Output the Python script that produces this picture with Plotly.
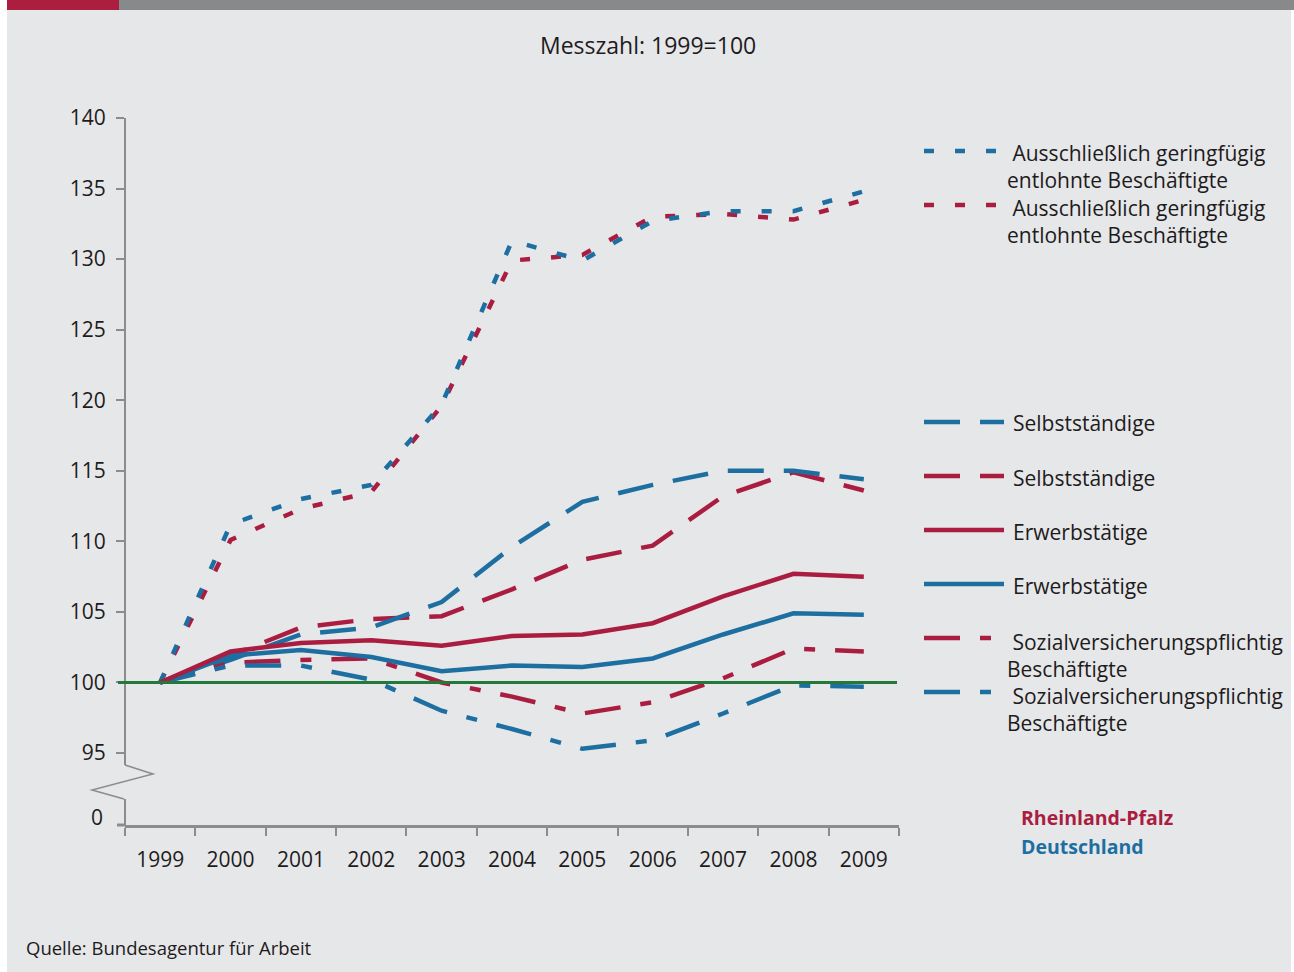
import plotly.graph_objects as go

# Werte (Messzahl 1999=100)
years = ["1999", "2000", "2001", "2002", "2003", "2004", "2005", "2006", "2007", "2008", "2009"]

gering_de = [100, 111.2, 113.0, 114.0, 119.7, 131.3, 129.9, 132.7, 133.4, 133.4, 134.8]
gering_rp = [100, 110.1, 112.3, 113.5, 119.6, 129.9, 130.3, 133.0, 133.2, 132.8, 134.2]
selbst_de = [100, 101.6, 103.4, 103.9, 105.7, 109.6, 112.8, 114.0, 115.0, 115.0, 114.4]
selbst_rp = [100, 101.9, 103.9, 104.5, 104.7, 106.6, 108.7, 109.7, 113.2, 114.9, 113.6]
erwerb_rp = [100, 102.2, 102.8, 103.0, 102.6, 103.3, 103.4, 104.2, 106.1, 107.7, 107.5]
erwerb_de = [100, 101.9, 102.3, 101.8, 100.8, 101.2, 101.1, 101.7, 103.4, 104.9, 104.8]
sozial_rp = [100, 101.4, 101.6, 101.7, 100.0, 99.0, 97.8, 98.6, 100.3, 102.4, 102.2]
sozial_de = [100, 101.2, 101.2, 100.2, 98.0, 96.7, 95.3, 95.9, 97.8, 99.8, 99.7]

y_ticks = [95, 100, 105, 110, 115, 120, 125, 130, 135, 140]

RED = "#AA1D40"
BLUE = "#1D6FA1"
GREEN = "#22793A"
AXIS = "#8C8C8E"
TXT = "#1E1B1C"
FONT = "Open Sans"

DOT = "10px,21px"
LONG = "36px,20px"
DASHDOT = "36px,20px,11px,20px"

# (label, values, colour, dash) in legend order
series = [
    ("\u00a0Ausschließlich geringfügig<br>entlohnte Beschäftigte", gering_de, BLUE, DOT),
    ("\u00a0Ausschließlich geringfügig<br>entlohnte Beschäftigte", gering_rp, RED, DOT),
    ("Selbstständige", selbst_de, BLUE, LONG),
    ("Selbstständige", selbst_rp, RED, LONG),
    ("Erwerbstätige", erwerb_rp, RED, "solid"),
    ("Erwerbstätige", erwerb_de, BLUE, "solid"),
    ("\u00a0Sozialversicherungspflichtig<br>Beschäftigte", sozial_rp, RED, DASHDOT),
    ("\u00a0Sozialversicherungspflichtig<br>Beschäftigte", sozial_de, BLUE, DASHDOT),
]
# legend rows: sample line y and text block centre (pixels)
legend_rows = [(151, 166), (205, 221), (422, 423), (476, 478), (530, 532), (584, 586), (638, 655), (692, 709)]

W, H = 1294, 972
L, R, T, B = 125, 395, 118, 147
pw, ph = W - L - R, H - T - B


def px_x(px):
    return (px - L) / pw


def px_y(py):
    return (H - B - py) / ph


fig = go.Figure()

draw_order = [1, 0, 3, 2, 6, 7, 5, 4]
for i in draw_order:
    name, vals, col, dash = series[i]
    fig.add_trace(go.Scatter(
        x=years, y=vals, mode="lines", showlegend=False,
        line=dict(color=col, width=4.5, dash=dash),
        name=name.replace("<br>", " ").strip("\u00a0"),
    ))

shapes = []
annotations = []

# background frame and top bar
shapes.append(dict(type="rect", xref="paper", yref="paper", x0=px_x(0), x1=px_x(7),
                   y0=px_y(H), y1=px_y(0), fillcolor="white", line_width=0, layer="below"))
shapes.append(dict(type="rect", xref="paper", yref="paper", x0=px_x(1291), x1=px_x(W),
                   y0=px_y(H), y1=px_y(0), fillcolor="white", line_width=0, layer="below"))
shapes.append(dict(type="rect", xref="paper", yref="paper", x0=px_x(7), x1=px_x(119),
                   y0=px_y(10), y1=px_y(0), fillcolor="#AB1E3F", line_width=0, layer="below"))
shapes.append(dict(type="rect", xref="paper", yref="paper", x0=px_x(119), x1=px_x(W),
                   y0=px_y(10), y1=px_y(0), fillcolor="#88898B", line_width=0, layer="below"))

# y axis with break
shapes.append(dict(type="line", xref="paper", yref="paper", x0=0, x1=0,
                   y0=px_y(118), y1=px_y(765), line=dict(color=AXIS, width=2)))
shapes.append(dict(type="path", xref="paper", yref="paper",
                   path="M %f,%f L %f,%f L %f,%f L %f,%f" % (
                       px_x(125), px_y(765), px_x(153), px_y(774),
                       px_x(92), px_y(790), px_x(124), px_y(799)),
                   line=dict(color=AXIS, width=1.5)))
shapes.append(dict(type="line", xref="paper", yref="paper", x0=0, x1=0,
                   y0=px_y(799), y1=px_y(825), line=dict(color=AXIS, width=2)))
shapes.append(dict(type="line", xref="paper", yref="paper", x0=px_x(117), x1=0,
                   y0=0, y1=0, line=dict(color=AXIS, width=3)))

# reference line 100
shapes.append(dict(type="line", xref="paper", yref="y", x0=px_x(118), x1=px_x(897),
                   y0=100, y1=100, line=dict(color=GREEN, width=3), layer="above"))

# manual legend
for (name, vals, col, dash), (ly, ty) in zip(series, legend_rows):
    shapes.append(dict(type="line", xref="paper", yref="paper",
                       x0=px_x(924), x1=px_x(1004), y0=px_y(ly), y1=px_y(ly),
                       line=dict(color=col, width=4.5, dash=dash)))
    two_lines = "<br>" in name
    annotations.append(dict(xref="paper", yref="paper", x=px_x(1005 if two_lines else 1011),
                            y=px_y(ty), xanchor="left", yanchor="middle", showarrow=False,
                            align="left", text=name, font=dict(size=21, color=TXT)))

annotations += [
    dict(xref="paper", yref="paper", x=px_x(1019), y=px_y(817), xanchor="left", yanchor="middle",
         showarrow=False, text="<b>Rheinland-Pfalz</b>", font=dict(size=19.5, color=RED)),
    dict(xref="paper", yref="paper", x=px_x(1019), y=px_y(846), xanchor="left", yanchor="middle",
         showarrow=False, text="<b>Deutschland</b>", font=dict(size=19.5, color=BLUE)),
    dict(xref="paper", yref="paper", x=px_x(648), y=px_y(45), xanchor="center", yanchor="middle",
         showarrow=False, text="Messzahl: 1999=100", font=dict(size=23, color=TXT)),
    dict(xref="paper", yref="paper", x=px_x(24), y=px_y(948), xanchor="left", yanchor="middle",
         showarrow=False, text="Quelle: Bundesagentur für Arbeit", font=dict(size=18.5, color=TXT)),
    dict(xref="paper", yref="paper", x=px_x(105), y=px_y(817), xanchor="right", yanchor="middle",
         showarrow=False, text="0", font=dict(size=21, color=TXT)),
]

fig.update_layout(
    width=W, height=H,
    margin=dict(l=L, r=R, t=T, b=B, pad=0),
    paper_bgcolor="#E6E7E9", plot_bgcolor="#E6E7E9",
    font=dict(family=FONT, size=21, color=TXT),
    shapes=shapes, annotations=annotations,
    showlegend=False,
)
fig.update_xaxes(
    type="category", range=[-0.5, 10.5], tickson="boundaries",
    showline=True, linecolor=AXIS, linewidth=3,
    ticks="outside", ticklen=8, tickwidth=2, tickcolor=AXIS,
    showgrid=False, zeroline=False, ticklabelstandoff=14,
    tickfont=dict(size=21, color=TXT),
)
fig.update_yaxes(
    range=[89.9, 140], tickvals=y_ticks, ticktext=[str(v) for v in y_ticks],
    showline=False, showgrid=False, zeroline=False,
    ticks="outside", ticklen=8, tickwidth=2, tickcolor=AXIS,
    ticklabelstandoff=6, tickfont=dict(size=21, color=TXT),
)

# remove the browser's default page margin so the figure sits at (0, 0)
fig.write_html("out.html", config={"displayModeBar": False},
               post_script="document.body.style.margin='0';")
